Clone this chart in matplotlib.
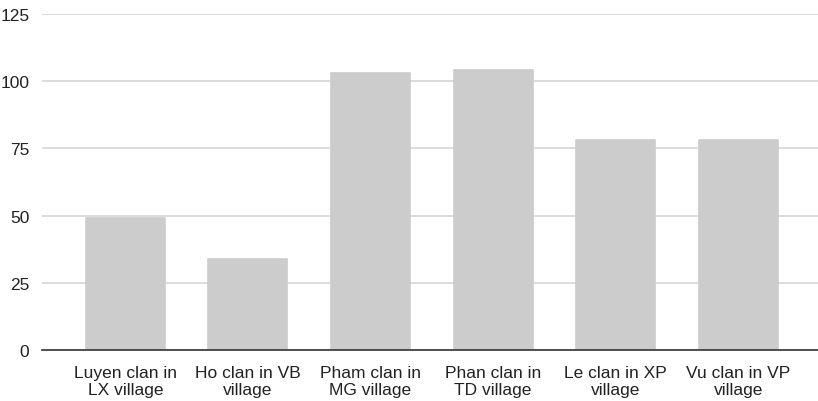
import matplotlib
matplotlib.use("Agg")
import matplotlib.pyplot as plt

plt.rcParams['font.family'] = ['Liberation Sans', 'DejaVu Sans']

categories = [
    "Luyen clan in\nLX village",
    "Ho clan in VB\nvillage",
    "Pham clan in\nMG village",
    "Phan clan in\nTD village",
    "Le clan in XP\nvillage",
    "Vu clan in VP\nvillage",
]
values = [49, 34, 103, 104, 78, 78]
y_ticks = [0, 25, 50, 75, 100, 125]

fig = plt.figure(figsize=(8.18, 4.02), dpi=100)
ax = fig.add_axes([42 / 818, 1 - 351 / 402, 1 - 42 / 818, 336 / 402])

x = list(range(len(categories)))
ax.bar(x, values, width=0.645, color="#cccccc", edgecolor="#cccccc",
       linewidth=1.2, joinstyle="round", zorder=3)

ax.set_xlim(-0.68, 5.65)
ax.set_ylim(0, 125)
ax.set_yticks(y_ticks)
ax.set_xticks(x)
ax.set_xticklabels(categories, fontsize=12.5, color="#222222", linespacing=1.12)
ax.tick_params(axis="y", labelsize=12.5, labelcolor="#222222", length=0, pad=9)
ax.tick_params(axis="x", length=0, pad=11)
for lbl in ax.get_yticklabels():
    lbl.set_horizontalalignment("right")

ax.grid(axis="y", color="#d6d6d6", linewidth=1.2, zorder=0)
ax.set_axisbelow(True)
for side in ["top", "right", "left"]:
    ax.spines[side].set_visible(False)
ax.spines["bottom"].set_color("#333333")
ax.spines["bottom"].set_linewidth(1.2)
ax.spines["bottom"].set_zorder(4)

fig.savefig("out.png", dpi=100, facecolor="white")
